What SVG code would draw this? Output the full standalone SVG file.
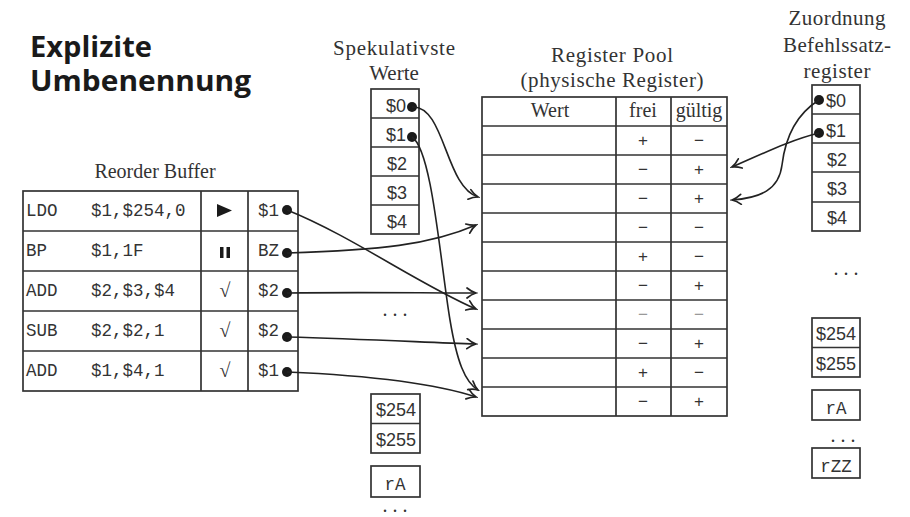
<svg xmlns="http://www.w3.org/2000/svg" width="910" height="517" viewBox="0 0 910 517">
<defs>
<marker id="arr" viewBox="-11 -6 13 12" refX="0" refY="0" markerWidth="13" markerHeight="12" markerUnits="userSpaceOnUse" orient="auto">
<path d="M-9,-5 C-6,-2.5 -2.5,-0.7 0,0 C-2.5,0.7 -6,2.5 -9,5" fill="none" stroke="#222" stroke-width="1.7" stroke-linecap="round"/>
</marker>
</defs>
<style>
.box{fill:#fff;stroke:#333;stroke-width:1.7}
.ln{stroke:#333;stroke-width:1.7;fill:none}
.ser{font-family:"Liberation Serif",serif;font-size:20px;fill:#333}
.hd{font-size:21px}
.mono{font-family:"Liberation Mono",monospace;font-size:17.5px;fill:#333}
.sans{font-family:"Liberation Sans",sans-serif;font-size:18px;fill:#333}
.pm{font-family:"Liberation Sans",sans-serif;font-size:17px;fill:#333;text-anchor:middle}
.pm.lt{fill:#999}
.mid{text-anchor:middle}
.dot{fill:#1a1a1a}
.con{fill:none;stroke:#222;stroke-width:1.6;marker-end:url(#arr)}
</style>
<rect width="910" height="517" fill="#fff"/>

<g id="title" font-family="'Open Sans',sans-serif" font-weight="bold" font-size="29px" fill="#1a1a1a">
<text x="30" y="57"><tspan x="30" y="57" textLength="122" lengthAdjust="spacingAndGlyphs">Explizite</tspan><tspan x="30" y="91" textLength="221" lengthAdjust="spacingAndGlyphs">Umbenennung</tspan></text>
</g>

<g id="reorder-buffer">
<text class="ser mid" x="155" y="178">Reorder Buffer</text>
<rect class="box" x="23" y="191" width="275" height="200"/>
<path class="ln" d="M23,231H298M23,271H298M23,311H298M23,351H298M201,191V391M248,191V391"/>
<text class="mono" x="26" y="216">LDO</text><text class="mono" x="91" y="216">$1,$254,0</text>
<text class="mono" x="26" y="256">BP</text><text class="mono" x="91" y="256">$1,1F</text>
<text class="mono" x="26" y="296">ADD</text><text class="mono" x="91" y="296">$2,$3,$4</text>
<text class="mono" x="26" y="336">SUB</text><text class="mono" x="91" y="336">$2,$2,1</text>
<text class="mono" x="26" y="376">ADD</text><text class="mono" x="91" y="376">$1,$4,1</text>
<polygon points="217,204 232,210.5 217,217" fill="#1a1a1a"/>
<rect x="220" y="247" width="3.5" height="11" fill="#1a1a1a"/>
<rect x="226.5" y="247" width="3.5" height="11" fill="#1a1a1a"/>
<text class="ser mid" x="225" y="297">√</text>
<text class="ser mid" x="225" y="337">√</text>
<text class="ser mid" x="225" y="377">√</text>
<text class="mono" x="258" y="216">$1</text>
<text class="mono" x="258" y="256">BZ</text>
<text class="mono" x="258" y="296">$2</text>
<text class="mono" x="258" y="336">$2</text>
<text class="mono" x="258" y="376">$1</text>
<circle class="dot" cx="287" cy="210" r="5"/>
<circle class="dot" cx="287" cy="253" r="5"/>
<circle class="dot" cx="287" cy="293" r="5"/>
<circle class="dot" cx="287" cy="337" r="5"/>
<circle class="dot" cx="287" cy="372" r="5"/>
</g>

<g id="speculative-values">
<text class="ser hd mid" x="394" y="55" textLength="122">Spekulativste</text>
<text class="ser hd mid" x="394" y="80">Werte</text>
<rect class="box" x="371" y="89" width="48" height="145"/>
<path class="ln" d="M371,118H419M371,147H419M371,176H419M371,205H419"/>
<text class="sans" x="386" y="112">$0</text>
<text class="sans" x="386" y="141">$1</text>
<text class="sans mid" x="397" y="170">$2</text>
<text class="sans mid" x="397" y="199">$3</text>
<text class="sans mid" x="397" y="228">$4</text>
<circle class="dot" cx="412" cy="107" r="5"/>
<circle class="dot" cx="412" cy="137" r="5"/>
<text class="ser mid" x="395" y="316">. . .</text>
<rect class="box" x="371" y="394" width="49" height="59"/>
<path class="ln" d="M371,423.5H420"/>
<text class="sans mid" x="396" y="416">$254</text>
<text class="sans mid" x="396" y="446">$255</text>
<rect class="box" x="371" y="466" width="49" height="31"/>
<text class="mono mid" x="395" y="490">rA</text>
<text class="ser mid" x="395" y="512" font-size="16px">. . .</text>
</g>

<g id="register-pool">
<text class="ser hd mid" x="612" y="62" textLength="122">Register Pool</text>
<text class="ser hd mid" x="612" y="87" textLength="183">(physische Register)</text>
<rect class="box" x="482" y="97" width="245" height="319"/>
<path class="ln" d="M482,126H727M482,155H727M482,184H727M482,213H727M482,242H727M482,271H727M482,300H727M482,329H727M482,358H727M482,387H727M616,97V416M671,97V416"/>
<text class="ser mid" x="550" y="117">Wert</text>
<text class="ser mid" x="643" y="117">frei</text>
<text class="ser mid" x="699" y="117">gültig</text>
<text class="pm" x="643" y="146">+</text><text class="pm" x="699" y="146">−</text>
<text class="pm" x="643" y="175">−</text><text class="pm" x="699" y="175">+</text>
<text class="pm" x="643" y="204">−</text><text class="pm" x="699" y="204">+</text>
<text class="pm" x="643" y="233">−</text><text class="pm" x="699" y="233">−</text>
<text class="pm" x="643" y="262">+</text><text class="pm" x="699" y="262">−</text>
<text class="pm" x="643" y="291">−</text><text class="pm" x="699" y="291">+</text>
<text class="pm lt" x="643" y="320">−</text><text class="pm lt" x="699" y="320">−</text>
<text class="pm" x="643" y="349">−</text><text class="pm" x="699" y="349">+</text>
<text class="pm" x="643" y="378">+</text><text class="pm" x="699" y="378">−</text>
<text class="pm" x="643" y="407">−</text><text class="pm" x="699" y="407">+</text>
</g>

<g id="isa-register-map">
<text class="ser hd mid" x="837" y="25" textLength="97">Zuordnung</text>
<text class="ser hd mid" x="837" y="52" textLength="108">Befehlssatz-</text>
<text class="ser hd mid" x="837" y="78" textLength="67">register</text>
<rect class="box" x="812" y="85" width="48" height="146"/>
<path class="ln" d="M812,114H860M812,143H860M812,172H860M812,202H860"/>
<text class="sans" x="826" y="107">$0</text>
<text class="sans" x="826" y="137">$1</text>
<text class="sans mid" x="837" y="166">$2</text>
<text class="sans mid" x="837" y="195">$3</text>
<text class="sans mid" x="837" y="224">$4</text>
<circle class="dot" cx="819" cy="100" r="5"/>
<circle class="dot" cx="819" cy="133" r="5"/>
<text class="ser mid" x="846" y="275">. . .</text>
<rect class="box" x="812" y="318" width="48" height="59"/>
<path class="ln" d="M812,347.5H860"/>
<text class="sans mid" x="836" y="340">$254</text>
<text class="sans mid" x="836" y="370">$255</text>
<rect class="box" x="812" y="390" width="48" height="30"/>
<text class="mono mid" x="836" y="414">rA</text>
<text class="ser mid" x="843" y="442">. . .</text>
<rect class="box" x="812" y="448" width="48" height="30"/>
<text class="mono mid" x="836" y="472">rZZ</text>
</g>

<g id="connectors">
<path class="con" d="M287,210 C350,235 420,285 476,309"/>
<path class="con" d="M287,253 C380,250 430,245 476,225"/>
<path class="con" d="M287,293 C360,292 420,293 476,293"/>
<path class="con" d="M287,337 C360,339 420,342 476,344"/>
<path class="con" d="M287,372 C380,376 440,385 476,397"/>
<path class="con" d="M412,107 C445,105 445,187 478,197"/>
<path class="con" d="M412,137 C432,150 440,260 450,320 C457,362 465,382 478,390"/>
<path class="con" d="M819,100 C795,115 785,140 782,165 C779,190 760,198 732,200"/>
<path class="con" d="M819,133 C790,140 760,155 732,167"/>
</g>
</svg>
